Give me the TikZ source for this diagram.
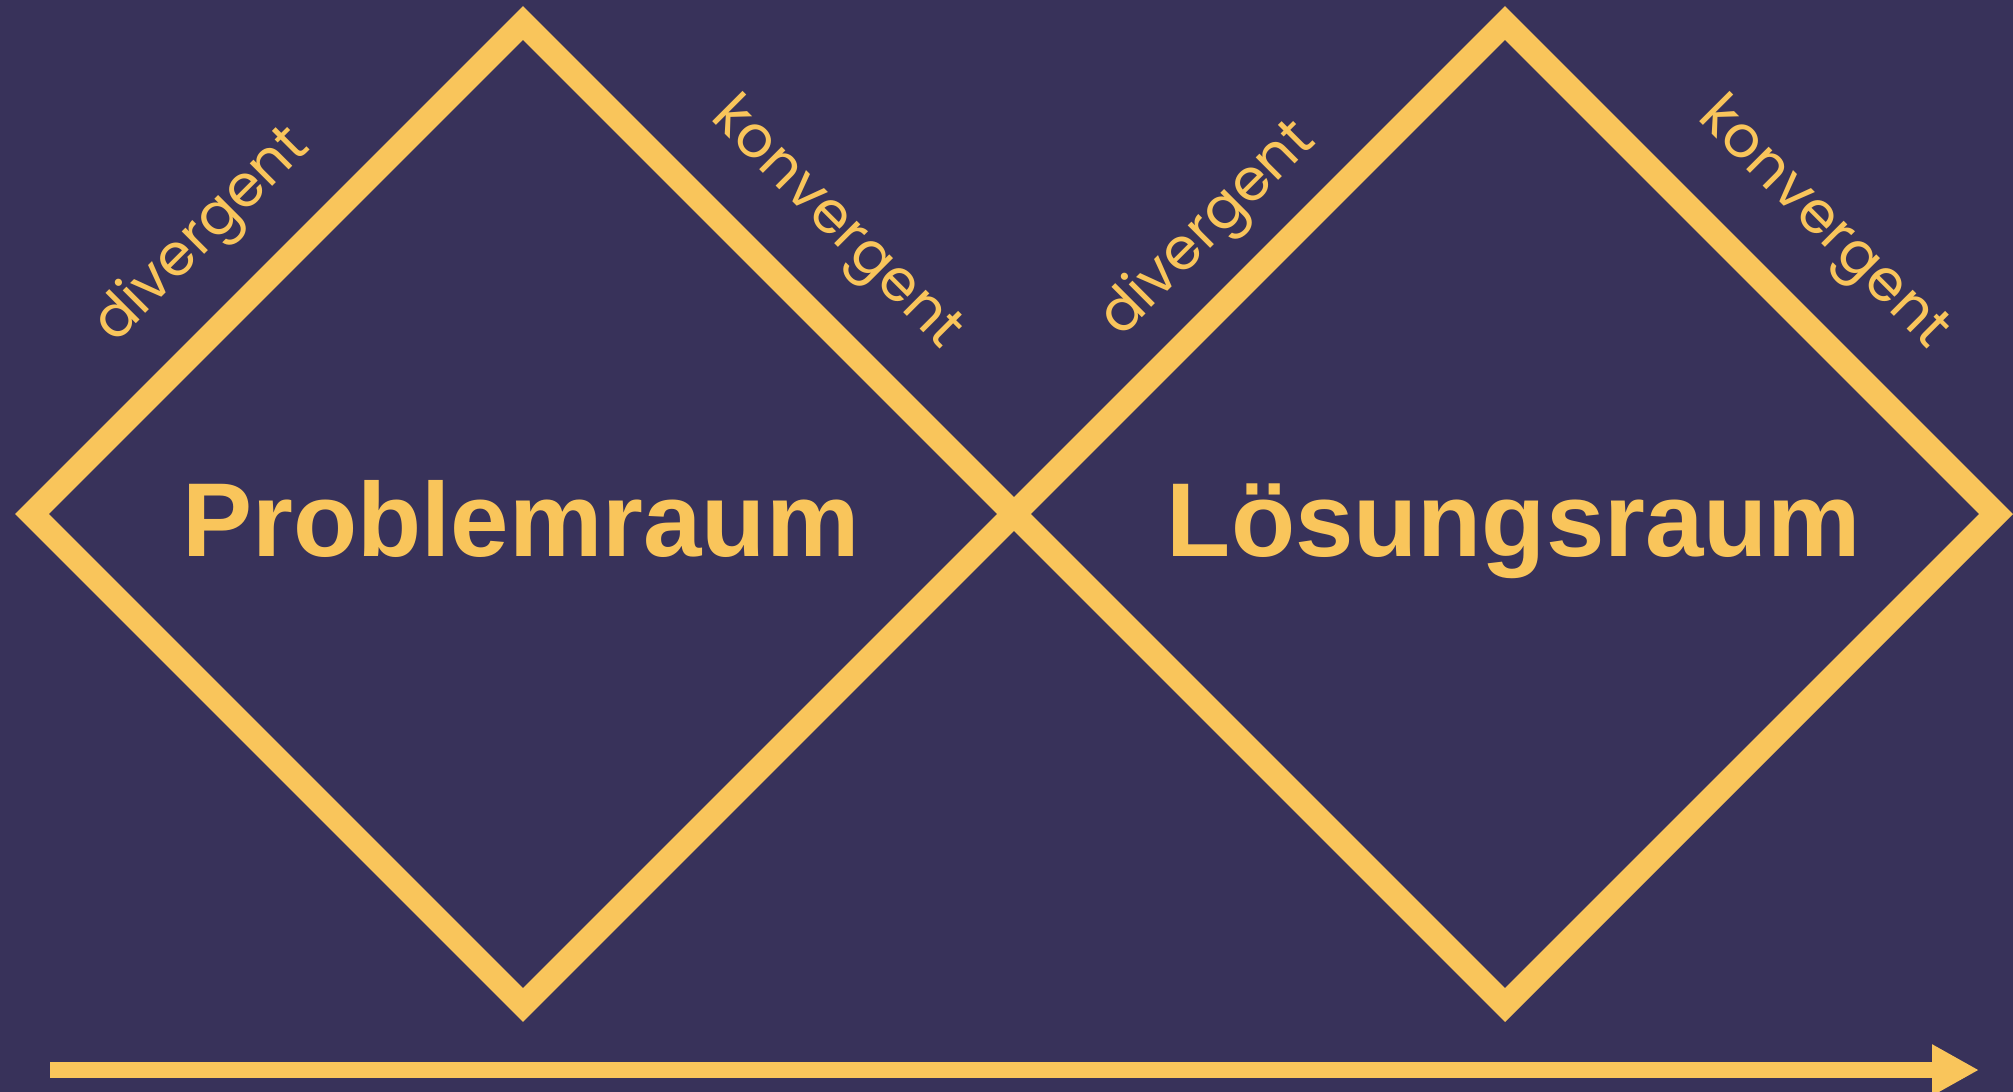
\documentclass[tikz,border=0pt]{standalone}
\usepackage{fontspec}
\setmainfont{Liberation Sans}
\newfontfamily\labelfont{Poppins}
\usetikzlibrary{arrows.meta}
\definecolor{bgc}{HTML}{38325A}
\definecolor{gold}{HTML}{F9C55B}
\begin{document}
\begin{tikzpicture}[x=0.5pt,y=-0.5pt,
  edge/.style={draw=gold,line width=12pt,line join=miter},
  title/.style={text=gold,font=\fontsize{52.5}{60}\selectfont\bfseries,inner sep=0pt,anchor=base},
  side/.style={text=gold,font=\labelfont\fontsize{29}{34}\selectfont,inner sep=0pt}]
\fill[bgc] (0,0) rectangle (2013,1092);
\useasboundingbox (0,0) rectangle (2013,1092);
\coordinate (L1) at (32,514);
\coordinate (T1) at (523,23);
\coordinate (X) at (1014,514);
\coordinate (B1) at (523,1005);
\coordinate (T2) at (1505,23);
\coordinate (R2) at (1996,514);
\coordinate (B2) at (1505,1005);
\draw[edge] (L1) -- (T1) -- (X) -- (B1) -- cycle;
\draw[edge] (X) -- (T2) -- (R2) -- (B2) -- cycle;
\coordinate (A0) at (50,1070);
\coordinate (A1) at (1979,1070);
\draw[draw=gold,line width=8pt,-{Triangle[length=23.5pt,width=24pt]}] (A0) -- (A1);
\node[title] (P) at (521,556) {Problemraum};
\node[title] (Lo) at (1514,556) {Lösungsraum};
\node[side,rotate=45] (d1) at (203,236) {divergent};
\node[side,rotate=45] (d2) at (1209,230) {divergent};
\node[side,rotate=-45] (k1) at (835,225) {konvergent};
\node[side,rotate=-45] (k2) at (1822,225) {konvergent};
\end{tikzpicture}
\end{document}
